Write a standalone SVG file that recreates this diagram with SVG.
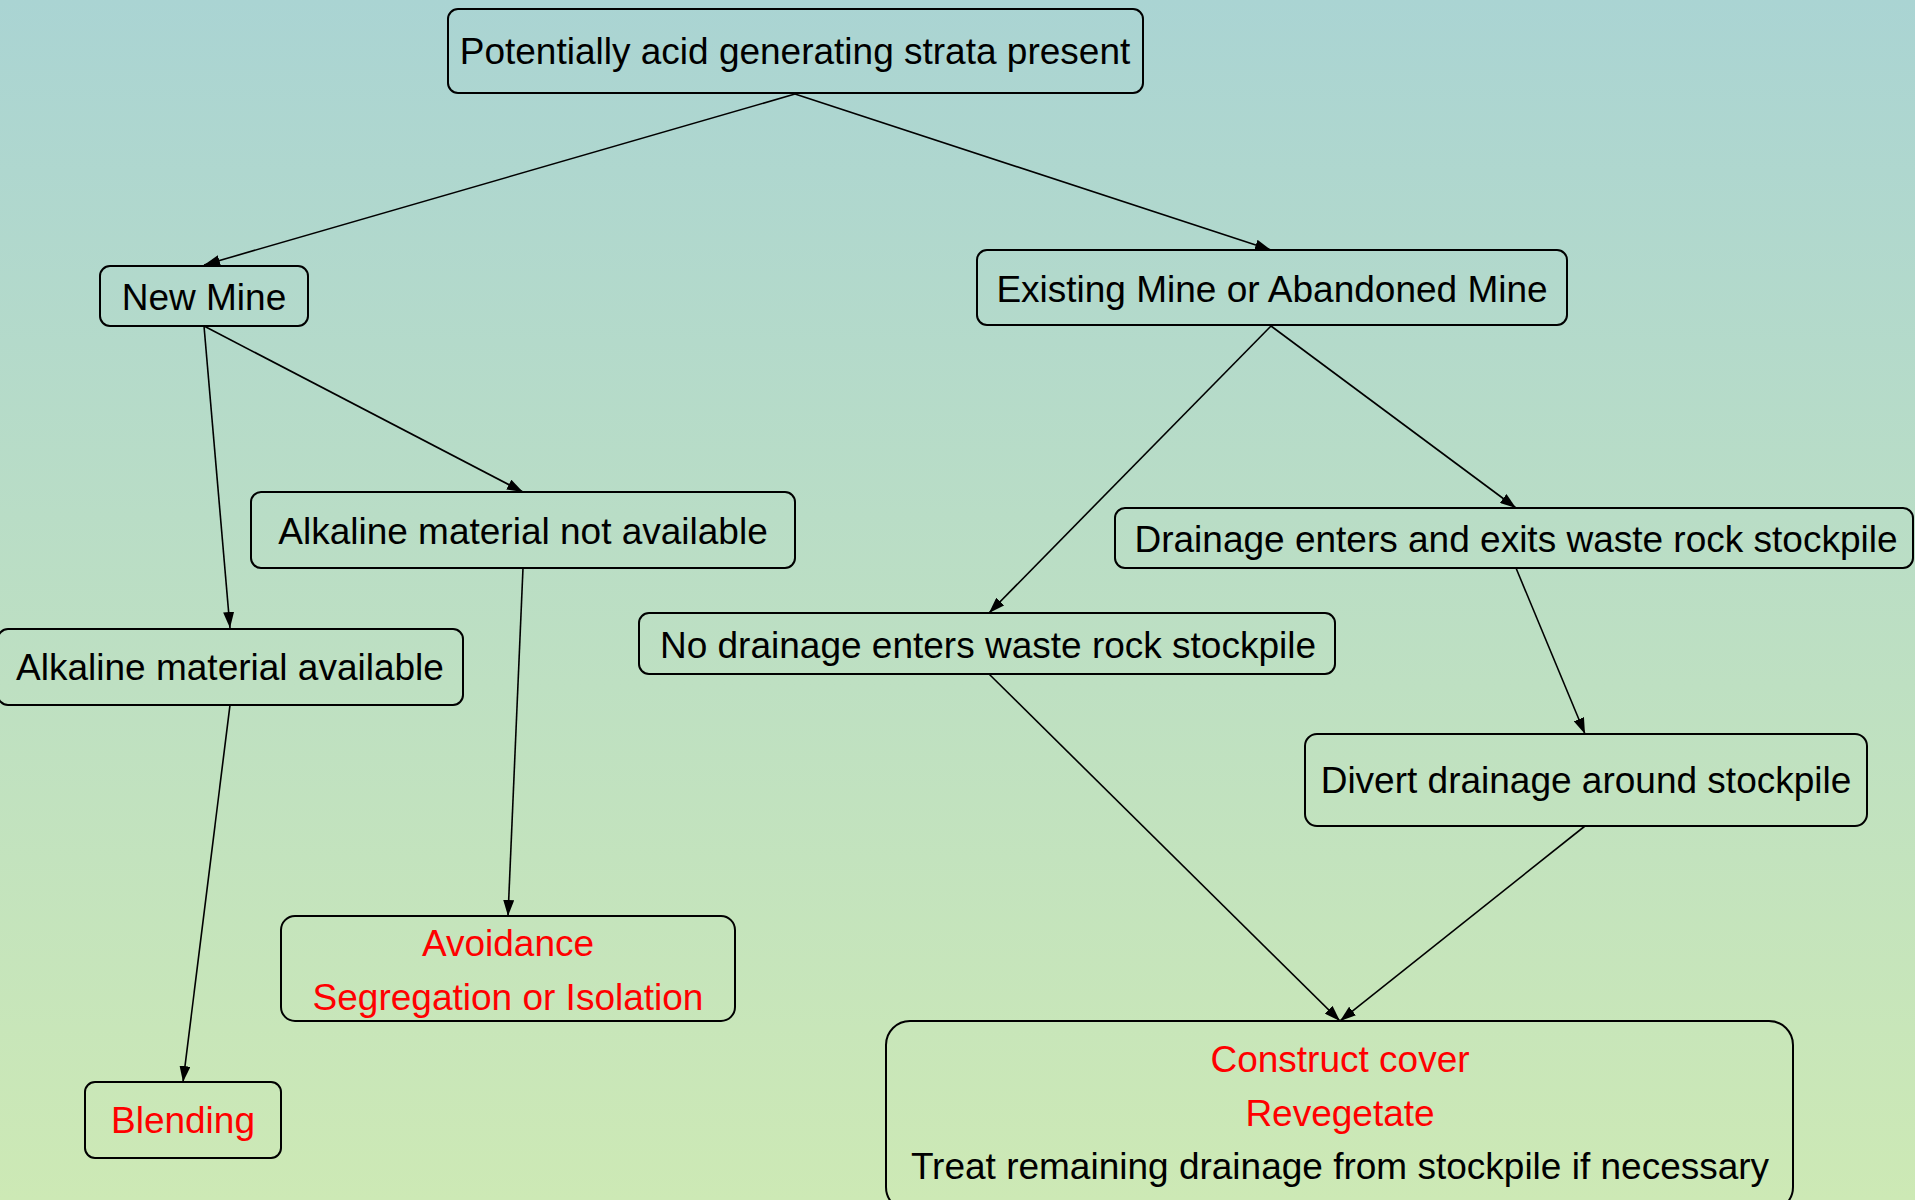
<svg xmlns="http://www.w3.org/2000/svg" width="1915" height="1200" viewBox="0 0 1915 1200">
<style>
.box{fill:none;stroke:#000;stroke-width:2}
.t{font-family:"Liberation Sans",Arial,sans-serif;font-size:37px;fill:#000;text-anchor:middle;dominant-baseline:central}
.r{fill:#ff0000}
.c{stroke:#000;stroke-width:1.6;fill:none;marker-end:url(#ah)}
</style>
<defs>
<linearGradient id="bg" x1="0" y1="0" x2="0" y2="1">
<stop offset="0" stop-color="#aad4d3"/>
<stop offset="1" stop-color="#cde9b5"/>
</linearGradient>
<marker id="ah" viewBox="0 0 16 11" refX="16" refY="5.5" markerWidth="16" markerHeight="11" markerUnits="userSpaceOnUse" orient="auto">
<path d="M0,0 L16,5.5 L0,11 Z" fill="#000"/>
</marker>
</defs>
<rect x="0" y="0" width="1915" height="1200" fill="url(#bg)"/>
<g id="connectors">
<line class="c" x1="795" y1="94" x2="204" y2="265"/>
<line class="c" x1="795" y1="94" x2="1271" y2="250"/>
<line class="c" x1="204" y1="326" x2="230" y2="628"/>
<line class="c" x1="204" y1="326" x2="523" y2="492"/>
<line class="c" x1="1271" y1="326" x2="989" y2="613"/>
<line class="c" x1="1271" y1="326" x2="1516" y2="508"/>
<line class="c" x1="1516" y1="568" x2="1585" y2="734"/>
<line class="c" x1="523" y1="568" x2="508" y2="916"/>
<line class="c" x1="230" y1="705" x2="183" y2="1082"/>
<line class="c" x1="989" y1="674" x2="1340" y2="1021"/>
<line class="c" x1="1585" y1="826" x2="1340" y2="1021"/>
</g>
<g id="n-top">
<rect class="box" x="448" y="9" width="695" height="84" rx="10"/>
<text class="t" x="795" y="51">Potentially acid generating strata present</text>
</g>
<g id="n-new">
<rect class="box" x="100" y="266" width="208" height="60" rx="10"/>
<text class="t" x="204" y="297">New Mine</text>
</g>
<g id="n-existing">
<rect class="box" x="977" y="250" width="590" height="75" rx="10"/>
<text class="t" x="1272" y="289">Existing Mine or Abandoned Mine</text>
</g>
<g id="n-notavail">
<rect class="box" x="251" y="492" width="544" height="76" rx="10"/>
<text class="t" x="523" y="531">Alkaline material not available</text>
</g>
<g id="n-avail">
<rect class="box" x="-2" y="629" width="465" height="76" rx="10"/>
<text class="t" x="230" y="667">Alkaline material available</text>
</g>
<g id="n-drainage">
<rect class="box" x="1115" y="508" width="798" height="60" rx="10"/>
<text class="t" x="1516" y="539">Drainage enters and exits waste rock stockpile</text>
</g>
<g id="n-nodrainage">
<rect class="box" x="639" y="613" width="696" height="61" rx="10"/>
<text class="t" x="988" y="645">No drainage enters waste rock stockpile</text>
</g>
<g id="n-divert">
<rect class="box" x="1305" y="734" width="562" height="92" rx="12"/>
<text class="t" x="1586" y="780">Divert drainage around stockpile</text>
</g>
<g id="n-avoid">
<rect class="box" x="281" y="916" width="454" height="105" rx="14"/>
<text class="t r" x="508" y="943">Avoidance</text>
<text class="t r" x="508" y="997">Segregation or Isolation</text>
</g>
<g id="n-blend">
<rect class="box" x="85" y="1082" width="196" height="76" rx="10"/>
<text class="t r" x="183" y="1120">Blending</text>
</g>
<g id="n-cover">
<rect class="box" x="886" y="1021" width="907" height="190" rx="24"/>
<text class="t r" x="1340" y="1059">Construct cover</text>
<text class="t r" x="1340" y="1113">Revegetate</text>
<text class="t" x="1340" y="1166">Treat remaining drainage from stockpile if necessary</text>
</g>
</svg>
